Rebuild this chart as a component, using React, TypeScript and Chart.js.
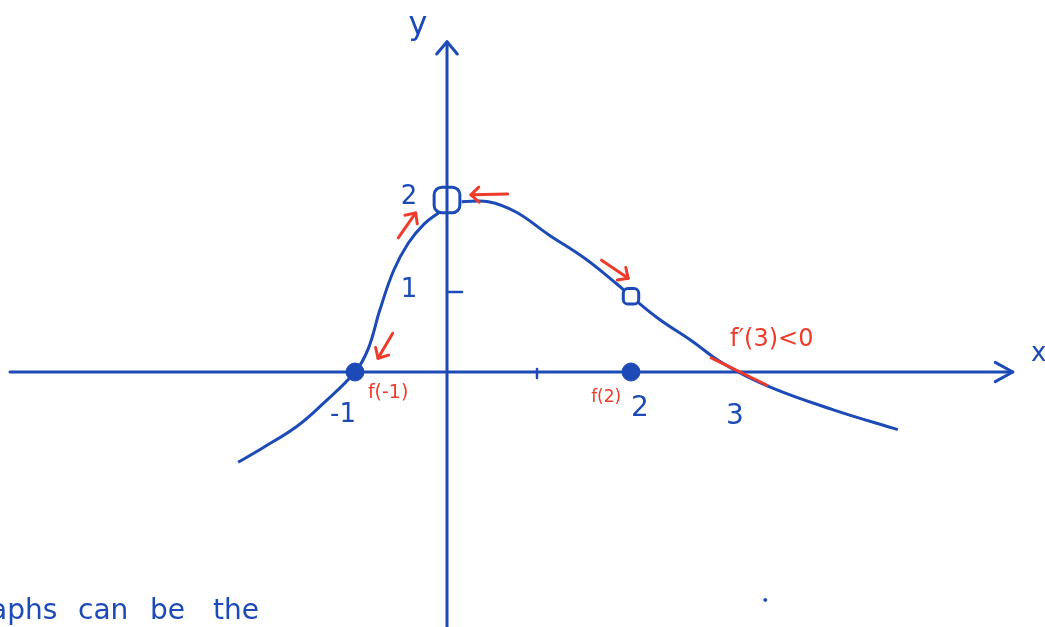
import React, { useEffect, useRef } from 'react';
import { Chart, registerables } from 'chart.js';
Chart.register(...registerables);

const BLUE = '#1c4ab6';
const RED = '#ef3b2c';
const FONT = '"DejaVu Sans", "Noto Sans", sans-serif';

// curve left of x=0 (ends at the open square at (0,2))
const leftCurveX = [-2.27, -2.0, -1.63, -1.35, -1.0, -0.86, -0.73, -0.58, -0.42, -0.25, -0.08];
const leftCurveY = [-1.05, -0.88, -0.63, -0.37, 0, 0.26, 0.72, 1.18, 1.5, 1.72, 1.86];
// curve right of x=0
const rightCurveX = [0.16, 0.45, 0.75, 1.1, 1.5, 1.85, 2.0, 2.3, 2.65, 3.0, 3.5, 4.2, 4.9];
const rightCurveY = [1.98, 1.98, 1.86, 1.6, 1.32, 1.02, 0.88, 0.62, 0.37, 0.1, -0.17, -0.44, -0.67];

// filled dots
const filledDotX = [-1, 2];
const filledDotY = [0, 0];
// open squares (holes)
const holeX = [0, 2];
const holeY = [2, 0.88];

// red tangent at x=3
const tangentX = [2.86, 3.49];
const tangentY = [0.17, -0.16];

// red arrows (tail -> head)
const arrowFromX = [-0.59, -0.53, 0.66, 1.68];
const arrowFromY = [0.45, 1.56, 2.07, 1.3];
const arrowToX = [-0.75, -0.34, 0.26, 1.97];
const arrowToY = [0.16, 1.85, 2.06, 1.09];

// red annotations
const redLabels = ['f(-1)', 'f(2)', 'f\u2032(3)<0'];
const redLabelX = [-0.64, 1.73, 3.53];
const redLabelY = [-0.24, -0.3, 0.37];

// ticks
const xTickValues = [-1, 1, 2, 3];
const xTickLabels = ['-1', '', '2', '3'];
const yTickValues = [1, 2];
const yTickLabels = ['1', '2'];

// axes extents
const xAxisRange = [-4.75, 6.15];
const yAxisRange = [-2.97, 3.84];

const strayX = [3.46];
const strayY = [-2.65];
const noteWords = ['aphs', 'can', 'be', 'the'];

const X_MIN = -447 / 92;
const X_MAX = (1045 - 447) / 92;
const Y_MAX = 372 / 86;
const Y_MIN = -(627 - 372) / 86;

const zip = (xs: number[], ys: number[]) => xs.map((x, i) => ({ x, y: ys[i] }));

function head(ctx: CanvasRenderingContext2D, tx: number, ty: number, ang: number, len: number, spread: number) {
  ctx.beginPath();
  ctx.moveTo(tx - len * Math.cos(ang - spread), ty - len * Math.sin(ang - spread));
  ctx.lineTo(tx, ty);
  ctx.lineTo(tx - len * Math.cos(ang + spread), ty - len * Math.sin(ang + spread));
  ctx.stroke();
}

const sketchPlugin = {
  id: 'sketch',
  beforeDatasetsDraw(chart: any) {
    const { ctx, scales } = chart;
    const px = (v: number) => scales.x.getPixelForValue(v);
    const py = (v: number) => scales.y.getPixelForValue(v);
    ctx.save();
    ctx.strokeStyle = BLUE;
    ctx.lineWidth = 3;
    ctx.lineCap = 'round';
    ctx.lineJoin = 'round';
    // x axis
    ctx.beginPath();
    ctx.moveTo(px(xAxisRange[0]), py(0));
    ctx.lineTo(px(xAxisRange[1]), py(0));
    ctx.stroke();
    head(ctx, px(xAxisRange[1]), py(0), 0, 20, 0.5);
    // y axis
    ctx.beginPath();
    ctx.moveTo(px(0), py(yAxisRange[0]));
    ctx.lineTo(px(0), py(yAxisRange[1]));
    ctx.stroke();
    head(ctx, px(0), py(yAxisRange[1]), -Math.PI / 2, 16, 0.7);
    // tick marks
    ctx.lineWidth = 2.5;
    xTickValues.forEach((v, i) => {
      if (xTickLabels[i] === '') {
        ctx.beginPath();
        ctx.moveTo(px(v) - 2, py(0) - 3);
        ctx.lineTo(px(v) - 2, py(0) + 6);
        ctx.stroke();
      }
    });
    yTickValues.forEach((v, i) => {
      if (yTickLabels[i] === '1') {
        ctx.beginPath();
        ctx.moveTo(px(0), py(v) + 6);
        ctx.lineTo(px(0) + 15, py(v) + 6);
        ctx.stroke();
      }
    });
    ctx.restore();
  },
  afterDatasetsDraw(chart: any) {
    const { ctx, scales } = chart;
    const px = (v: number) => scales.x.getPixelForValue(v);
    const py = (v: number) => scales.y.getPixelForValue(v);
    ctx.save();
    // red arrows
    ctx.strokeStyle = RED;
    ctx.lineWidth = 3;
    ctx.lineCap = 'round';
    ctx.lineJoin = 'round';
    arrowFromX.forEach((fx, i) => {
      const x1 = px(fx), y1 = py(arrowFromY[i]);
      const x2 = px(arrowToX[i]), y2 = py(arrowToY[i]);
      ctx.beginPath();
      ctx.moveTo(x1, y1);
      ctx.lineTo(x2, y2);
      ctx.stroke();
      head(ctx, x2, y2, Math.atan2(y2 - y1, x2 - x1), 11, 0.75);
    });
    // red labels
    ctx.fillStyle = RED;
    ctx.textAlign = 'center';
    ctx.textBaseline = 'middle';
    const redSizes = [19, 17, 24];
    redLabels.forEach((t, i) => {
      ctx.font = `${redSizes[i]}px ${FONT}`;
      ctx.fillText(t, px(redLabelX[i]), py(redLabelY[i]));
    });
    // blue tick labels
    ctx.fillStyle = BLUE;
    const xOff = [-12, 0, 9, 12];
    const yOff = [43, 0, 37, 45];
    const xSize = [26, 26, 28, 28];
    xTickValues.forEach((v, i) => {
      if (!xTickLabels[i]) return;
      ctx.font = `${xSize[i]}px ${FONT}`;
      ctx.fillText(xTickLabels[i], px(v) + xOff[i], py(0) + yOff[i]);
    });
    ctx.font = `26px ${FONT}`;
    yTickValues.forEach((v) => {
      ctx.fillText(String(v), px(0) - 38, py(v) + (v === 1 ? 4 : -3));
    });
    // axis names
    ctx.font = `32px ${FONT}`;
    ctx.fillText('y', px(0) - 29, 26);
    ctx.textAlign = 'left';
    ctx.font = `26px ${FONT}`;
    ctx.fillText('x', 1031, py(0) - 18);
    // stray note at the bottom
    ctx.textBaseline = 'alphabetic';
    ctx.font = `28px ${FONT}`;
    const wordX = [-10, 78, 150, 213];
    noteWords.forEach((w, i) => ctx.fillText(w, wordX[i], 619));
    ctx.restore();
  },
};

export default function App() {
  const ref = useRef<HTMLCanvasElement>(null);
  useEffect(() => {
    const chart = new Chart(ref.current as HTMLCanvasElement, {
      type: 'scatter',
      data: {
        datasets: [
          {
            label: 'holes',
            data: zip(holeX, holeY),
            showLine: false,
            pointStyle: 'rectRounded',
            pointRadius: [15, 9],
            backgroundColor: ['rgba(0,0,0,0)', '#ffffff'],
            borderColor: BLUE,
            borderWidth: 3,
            order: 0,
          },
          {
            label: 'dots',
            data: zip(filledDotX, filledDotY),
            showLine: false,
            pointStyle: 'circle',
            pointRadius: 9,
            backgroundColor: BLUE,
            borderColor: BLUE,
            borderWidth: 1,
            order: 1,
          },
          {
            label: 'tangent',
            data: zip(tangentX, tangentY),
            showLine: true,
            pointRadius: 0,
            borderColor: RED,
            borderWidth: 3,
            order: 2,
          },
          {
            label: 'left',
            data: zip(leftCurveX, leftCurveY),
            showLine: true,
            pointRadius: 0,
            tension: 0.4,
            borderColor: BLUE,
            borderWidth: 3,
            order: 3,
          },
          {
            label: 'right',
            data: zip(rightCurveX, rightCurveY),
            showLine: true,
            pointRadius: 0,
            tension: 0.4,
            borderColor: BLUE,
            borderWidth: 3,
            order: 3,
          },
          {
            label: 'stray',
            data: zip(strayX, strayY),
            showLine: false,
            pointRadius: 1.5,
            backgroundColor: BLUE,
            borderColor: BLUE,
            order: 4,
          },
        ],
      },
      options: {
        responsive: false,
        animation: false,
        devicePixelRatio: 1,
        events: [],
        layout: { padding: 0, autoPadding: false },
        plugins: { legend: { display: false }, tooltip: { enabled: false } },
        scales: {
          x: { type: 'linear', min: X_MIN, max: X_MAX, display: false },
          y: { type: 'linear', min: Y_MIN, max: Y_MAX, display: false },
        },
      } as any,
      plugins: [sketchPlugin],
    });
    return () => chart.destroy();
  }, []);
  return (
    <div style={{ position: 'fixed', left: 0, top: 0, width: 1045, height: 627, background: '#fff' }}>
      <canvas ref={ref} width={1045} height={627} style={{ display: 'block' }} />
    </div>
  );
}
